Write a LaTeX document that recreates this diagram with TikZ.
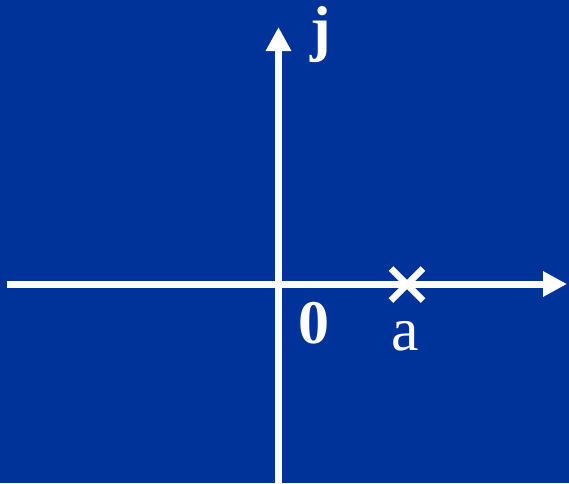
\documentclass[tikz,border=0pt]{standalone}
\usepackage{fontspec}
\setmainfont{Liberation Serif}
\usetikzlibrary{arrows.meta}
\definecolor{bg}{RGB}{0,51,153}
\tikzset{
  axis/.style={white, line width=7pt, -{Triangle[length=24pt,width=24pt]}},
  lbl/.style={text=white, inner sep=0pt, anchor=base, font=\fontsize{62}{62}\selectfont},
  pole/.style={white, line width=6.5pt}
}
\begin{document}
\begin{tikzpicture}[x=1pt,y=-1pt]
\fill[bg] (0,0) rectangle (569,483);
\useasboundingbox (0,0) rectangle (569,483);
\coordinate (xl) at (7,284);
\coordinate (xr) at (567,284);
\coordinate (yb) at (278.5,483);
\coordinate (yt) at (278.5,27);
\draw[axis] (xl) -- (xr);
\draw[axis] (yb) -- (yt);
\node[lbl, font=\fontsize{62}{62}\selectfont\bfseries] (j) at (321,49) {j};
\node[lbl, font=\fontsize{62}{62}\selectfont\bfseries] (zero) at (313.5,343) {0};
\node[lbl] (a) at (405,350) {a};
\coordinate (p) at (407,284.5);
\draw[pole] ([shift={(-16,-16)}]p) -- ([shift={(16,16)}]p);
\draw[pole] ([shift={(-16,16)}]p) -- ([shift={(16,-16)}]p);
\end{tikzpicture}
\end{document}
